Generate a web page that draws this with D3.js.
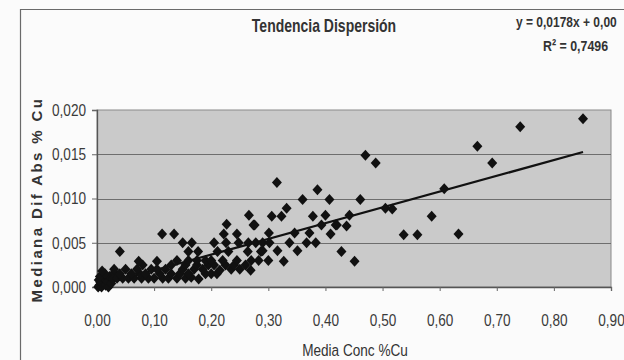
<!DOCTYPE html>
<html>
<head>
<meta charset="utf-8">
<script src="https://cdn.jsdelivr.net/npm/d3@7"></script>
<style>
  html, body { margin: 0; padding: 0; background: #fbfbfb; }
  svg { display: block; }
</style>
</head>
<body>
<svg id="chart" width="624" height="360"></svg>
<script>
// ---- Data ----
const mediaConc = [
  0.002, 0.004, 0.006, 0.008, 0.010, 0.003, 0.012, 0.015, 0.018, 0.020, 0.022, 0.025, 0.005, 0.014, 0.028, 0.030, 0.009,
  0.035, 0.045, 0.055, 0.065, 0.078, 0.090, 0.100, 0.115, 0.125, 0.140, 0.155, 0.165, 0.178,
  0.040, 0.060, 0.075, 0.085, 0.110, 0.130, 0.145, 0.160, 0.190, 0.200, 0.210,
  0.030, 0.050, 0.070, 0.095, 0.105, 0.120, 0.150, 0.170, 0.185, 0.215, 0.235, 0.250, 0.269,
  0.080, 0.130, 0.155, 0.175, 0.195, 0.205, 0.225, 0.240, 0.260,
  0.073, 0.105, 0.140, 0.160, 0.175, 0.190, 0.200, 0.220, 0.245, 0.270, 0.283, 0.327, 0.300, 0.451,
  0.040, 0.160, 0.177, 0.211, 0.230, 0.264, 0.287, 0.290, 0.316, 0.351, 0.428,
  0.150, 0.166, 0.205, 0.226, 0.248, 0.265, 0.278, 0.290, 0.302, 0.337, 0.367, 0.383,
  0.114, 0.135, 0.222, 0.245, 0.301, 0.346, 0.372, 0.409, 0.537, 0.561, 0.633,
  0.227, 0.274, 0.276, 0.393, 0.418, 0.420, 0.437,
  0.266, 0.306, 0.323, 0.378, 0.400, 0.442, 0.586,
  0.332, 0.505, 0.517,
  0.360, 0.407, 0.461,
  0.386, 0.608,
  0.315,
  0.488, 0.692,
  0.470,
  0.666,
  0.741,
  0.851
];
const medianaDif = [
  0.0000, 0.0002, 0.0005, 0.0000, 0.0003, 0.0008, 0.0010, 0.0002, 0.0006, 0.0000, 0.0012, 0.0004, 0.0012, 0.0015, 0.0009, 0.0016, 0.0018,
  0.0010, 0.0010, 0.0010, 0.0010, 0.0010, 0.0010, 0.0010, 0.0010, 0.0010, 0.0010, 0.0010, 0.0011, 0.0009,
  0.0015, 0.0015, 0.0015, 0.0015, 0.0015, 0.0015, 0.0015, 0.0015, 0.0015, 0.0015, 0.0015,
  0.0020, 0.0020, 0.0020, 0.0020, 0.0020, 0.0020, 0.0020, 0.0020, 0.0020, 0.0019, 0.0020, 0.0020, 0.0019,
  0.0025, 0.0025, 0.0025, 0.0025, 0.0025, 0.0025, 0.0025, 0.0025, 0.0025,
  0.0029, 0.0029, 0.0030, 0.0030, 0.0030, 0.0030, 0.0030, 0.0030, 0.0030, 0.0030, 0.0030, 0.0029, 0.0030, 0.0029,
  0.0040, 0.0040, 0.0040, 0.0040, 0.0040, 0.0040, 0.0040, 0.0041, 0.0041, 0.0041, 0.0040,
  0.0050, 0.0050, 0.0050, 0.0050, 0.0050, 0.0050, 0.0050, 0.0050, 0.0050, 0.0050, 0.0050, 0.0050,
  0.0060, 0.0060, 0.0060, 0.0060, 0.0061, 0.0061, 0.0061, 0.0060, 0.0059, 0.0059, 0.0060,
  0.0071, 0.0070, 0.0070, 0.0070, 0.0070, 0.0070, 0.0069,
  0.0081, 0.0080, 0.0080, 0.0080, 0.0081, 0.0081, 0.0080,
  0.0089, 0.0089, 0.0088,
  0.0099, 0.0099, 0.0099,
  0.0110, 0.0111,
  0.0118,
  0.0140, 0.0140,
  0.0149,
  0.0159,
  0.0181,
  0.0190
];
const xTicks = [0, 0.1, 0.2, 0.3, 0.4, 0.5, 0.6, 0.7, 0.8, 0.9];
const yTicks = [0, 0.005, 0.010, 0.015, 0.020];
const trendSlope = 0.0178;
const trendIntercept = 0.0001;
const chartTitle = "Tendencia Dispersión";
const xTitle = "Media Conc %Cu";
const yTitle = "Mediana Dif Abs % Cu";
const equationText = "y = 0,0178x + 0,00";
const r2Text = "R² = 0,7496";

// ---- Drawing ----
const svg = d3.select("#chart");
const plot = { left: 97, right: 611, top: 110, bottom: 287 };
const SX = 0.8; // horizontal compression to mimic a narrow face
const FONT = '"Liberation Sans", Arial, sans-serif';

const x = d3.scaleLinear().domain([0, 0.9]).range([plot.left, plot.right]);
const y = d3.scaleLinear().domain([0, 0.02]).range([plot.bottom, plot.top]);

// outer chart frame
svg.append("path")
  .attr("d", "M20.5,360 L20.5,9.5 L624,9.5")
  .attr("fill", "none").attr("stroke", "#6a6a6a").attr("stroke-width", 1.2);

// plot background
svg.append("rect")
  .attr("x", plot.left).attr("y", plot.top)
  .attr("width", plot.right - plot.left).attr("height", plot.bottom - plot.top)
  .attr("fill", "#cacaca").attr("stroke", "#8a8a8a").attr("stroke-width", 1);

// gridlines
svg.append("g").selectAll("line").data(yTicks.filter(d => d > 0 && d < 0.02)).join("line")
  .attr("x1", plot.left).attr("x2", plot.right)
  .attr("y1", d => Math.round(y(d)) + 0.5).attr("y2", d => Math.round(y(d)) + 0.5)
  .attr("stroke", "#6e6e6e").attr("stroke-width", 1);

// axes
const fmtX = v => d3.format(".2f")(v).replace(".", ",");
const fmtY = v => d3.format(".3f")(v).replace(".", ",");

const gx = svg.append("g")
  .attr("transform", `translate(0,${plot.bottom})`)
  .call(d3.axisBottom(x).tickValues(xTicks).tickFormat(fmtX).tickSize(4).tickPadding(23));
const gy = svg.append("g")
  .attr("transform", `translate(${plot.left},0)`)
  .call(d3.axisLeft(y).tickValues(yTicks).tickFormat(fmtY).tickSize(5).tickPadding(6));

[gx, gy].forEach(g => {
  g.select(".domain").attr("stroke", "#555").attr("stroke-width", 1.3);
  g.selectAll(".tick line").attr("stroke", "#666");
  g.selectAll("text").attr("fill", "#3a3a3a").attr("font-size", 17)
    .attr("font-family", FONT);
});
gx.selectAll(".tick text").attr("transform", `scale(${SX},1)`);
gy.selectAll(".tick text").each(function () {
  const t = d3.select(this);
  t.attr("x", +t.attr("x") / SX).attr("transform", `scale(${SX},1)`);
});

// trend line
const xMin = d3.min(mediaConc), xMax = d3.max(mediaConc);
svg.append("line")
  .attr("x1", x(xMin)).attr("y1", y(trendSlope * xMin + trendIntercept))
  .attr("x2", x(xMax)).attr("y2", y(trendSlope * xMax + trendIntercept))
  .attr("stroke", "#111").attr("stroke-width", 2.2);

// points (diamonds)
const pts = mediaConc.map((v, i) => [v, medianaDif[i]]);
svg.append("g").selectAll("path").data(pts).join("path")
  .attr("transform", d => `translate(${x(d[0])},${y(d[1])})`)
  .attr("d", "M0,-5.5 L5,0 L0,5.5 L-5,0 Z")
  .attr("fill", "#111");

// titles
function narrowText(px, py, str, opts) {
  return svg.append("text")
    .attr("transform", `translate(${px},${py}) scale(${SX},1)`)
    .attr("text-anchor", opts.anchor || "start")
    .attr("font-family", FONT)
    .attr("font-weight", opts.bold ? "bold" : "normal")
    .attr("font-size", opts.size)
    .attr("fill", "#333")
    .text(str);
}
narrowText(324, 32, chartTitle, { anchor: "middle", bold: true, size: 17.5 });
narrowText(516, 27, equationText, { bold: true, size: 15 });
narrowText(543, 51, r2Text, { bold: true, size: 15.5 });
narrowText(355, 356, xTitle, { anchor: "middle", size: 17 });

svg.append("text")
  .attr("transform", `translate(42,${(plot.top + plot.bottom) / 2 + 1}) rotate(-90)`)
  .attr("text-anchor", "middle")
  .attr("font-family", FONT).attr("font-weight", "bold")
  .attr("font-size", 15).attr("letter-spacing", 2.4).attr("fill", "#333")
  .text(yTitle);
</script>
</body>
</html>
